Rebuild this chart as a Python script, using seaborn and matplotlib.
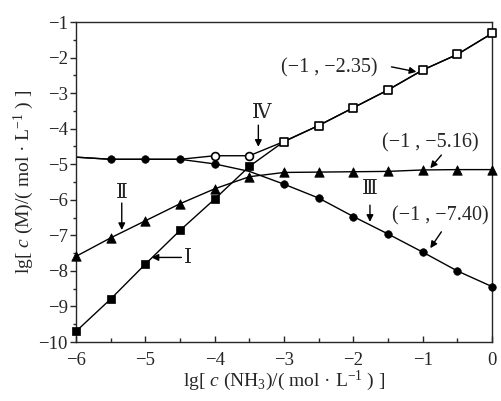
import numpy as np
import pandas as pd
import seaborn as sns
import matplotlib.pyplot as plt
from matplotlib.ticker import MultipleLocator

# data
lg_nh3 = [-6, -5.5, -5, -4.5, -4, -3.5, -3, -2.5, -2, -1.5, -1, -0.5, 0]
curve_I = [-9.70, -8.79, -7.81, -6.86, -5.98, -5.06, -4.36, -3.91, -3.41, -2.91, -2.35, -1.91, -1.32]
curve_II = [-7.59, -7.07, -6.59, -6.11, -5.69, -5.35, -5.23, -5.22, -5.21, -5.20, -5.16, -5.15, -5.15]
curve_III = [-4.80, -4.86, -4.86, -4.86, -4.99, -5.20, -5.56, -5.95, -6.47, -6.96, -7.47, -8.00, -8.44]
curve_IV = [-4.80, -4.86, -4.86, -4.86, -4.76, -4.76, -4.36, -3.91, -3.41, -2.91, -2.35, -1.91, -1.32]

df = pd.DataFrame({"x": lg_nh3, "I": curve_I, "II": curve_II, "III": curve_III, "IV": curve_IV})

sns.set_style("ticks")
plt.rcParams['font.family'] = ['Liberation Serif', 'DejaVu Serif']
plt.rcParams['mathtext.fontset'] = 'custom'
plt.rcParams['mathtext.rm'] = 'Liberation Serif'
plt.rcParams['mathtext.it'] = 'Liberation Serif:italic'

fig = plt.figure(figsize=(5.01, 4.01), dpi=100)
ax = fig.add_axes([0.1517, 0.147, 0.8303, 0.798])

lw = 1.0
for name in ["I", "II", "III", "IV"]:
    sns.lineplot(data=df, x="x", y=name, color="black", lw=lw, ax=ax, zorder=2)

low = df[df["x"] <= -3.5]
high = df[df["x"] >= -3]
# filled squares (I, low range)
sns.scatterplot(data=low, x="x", y="I", marker="s", s=40, color="black", edgecolor="black", ax=ax, zorder=4, clip_on=False)
# open squares (I / IV, high range)
sns.scatterplot(data=high, x="x", y="IV", marker="s", s=30, color="white", edgecolor="black", linewidth=1.2, ax=ax, zorder=4, clip_on=False)
# triangles (II)
sns.scatterplot(data=df, x="x", y="II", marker="^", s=46, color="black", edgecolor="black", ax=ax, zorder=4, clip_on=False)
# filled circles (III)
circ = df[(df["x"] > -6) & (df["x"] != -3.5)]
sns.scatterplot(data=circ, x="x", y="III", marker="o", s=30, color="black", edgecolor="black", ax=ax, zorder=4, clip_on=False)
# open circles (IV)
oc = df[(df["x"] >= -4) & (df["x"] <= -3.5)]
sns.scatterplot(data=oc, x="x", y="IV", marker="o", s=32, color="white", edgecolor="black", linewidth=1.2, ax=ax, zorder=4, clip_on=False)

ax.set_xlim(-6, 0)
ax.set_ylim(-10, -1)
ax.xaxis.set_major_locator(MultipleLocator(1))
ax.xaxis.set_minor_locator(MultipleLocator(0.5))
ax.yaxis.set_major_locator(MultipleLocator(1))
ax.yaxis.set_minor_locator(MultipleLocator(0.5))
ax.tick_params(axis='x', which='major', direction='in', length=4, width=1, labelsize=13.5, pad=7)
ax.tick_params(axis='x', which='minor', direction='in', length=3, width=1)
ax.tick_params(axis='y', which='major', direction='out', length=4, width=1, labelsize=13.5, pad=2)
ax.tick_params(axis='y', which='minor', direction='out', length=2.5, width=1)
for sp in ax.spines.values():
    sp.set_visible(True)
    sp.set_linewidth(1.0)

ax.set_xlabel("lg[ $c$ (NH$_3$)/( mol · L$^{-1}$ ) ]", fontsize=14, labelpad=0)
ax.set_ylabel("lg[ $c$ (M)/( mol · L$^{-1}$ ) ]", fontsize=14, labelpad=2)

arrow = dict(arrowstyle="-|>", color="black", lw=1.0, mutation_scale=10, shrinkA=0, shrinkB=0)
fs = 14.5
ax.annotate("", xy=(-1.09, -2.40), xytext=(-1.45, -2.26), arrowprops=arrow)
ax.text(-2.34, -2.29, "(−1 , −2.35)", fontsize=fs, ha="center", va="center")
ax.annotate("", xy=(-0.89, -5.11), xytext=(-0.73, -4.74), arrowprops=arrow)
ax.text(-0.89, -4.40, "(−1 , −5.16)", fontsize=fs, ha="center", va="center")
ax.annotate("", xy=(-1.76, -6.62), xytext=(-1.76, -6.15), arrowprops=arrow)
ax.text(-1.76, -5.72, "Ⅲ", fontsize=fs, ha="center", va="center")
ax.annotate("", xy=(-0.89, -7.36), xytext=(-0.73, -6.90), arrowprops=arrow)
ax.text(-0.75, -6.46, "(−1 , −7.40)", fontsize=fs, ha="center", va="center")
ax.annotate("", xy=(-5.34, -6.85), xytext=(-5.34, -6.09), arrowprops=arrow)
ax.text(-5.34, -5.82, "Ⅱ", fontsize=fs, ha="center", va="center")
ax.annotate("", xy=(-4.91, -7.62), xytext=(-4.48, -7.62), arrowprops=arrow)
ax.text(-4.38, -7.65, "Ⅰ", fontsize=fs, ha="center", va="center")
ax.annotate("", xy=(-3.37, -4.51), xytext=(-3.37, -3.90), arrowprops=arrow)
ax.text(-3.32, -3.57, "Ⅳ", fontsize=fs, ha="center", va="center")

fig.savefig("out.png", dpi=100)
